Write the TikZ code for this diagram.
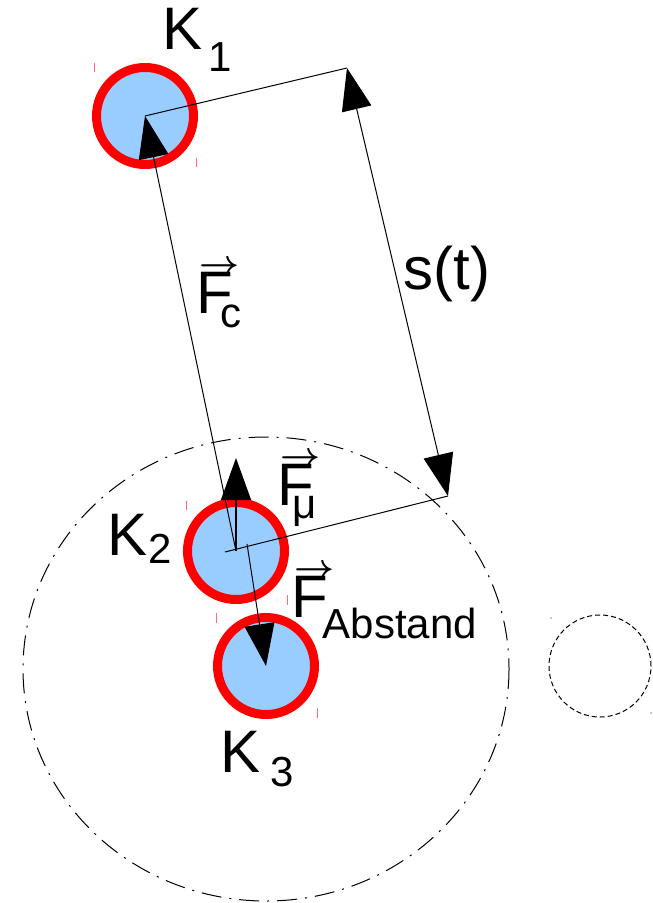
\documentclass[tikz,border=0pt]{standalone}
\usepackage{fontspec}
\setmainfont{Liberation Sans}
\usetikzlibrary{arrows.meta}
\definecolor{ballblue}{RGB}{153,204,255}
\definecolor{tickred}{RGB}{255,110,110}
\newcommand{\subsz}{\fontsize{21pt}{21pt}\selectfont}
\newcommand{\vF}{\leavevmode\rlap{\hspace{1.5pt}\raisebox{19.5pt}{\resizebox{20pt}{!}{\boldmath$\rightarrow$}}}F}
\begin{document}
\begin{tikzpicture}[x=0.5pt,y=-0.5pt,
  lbl/.style={inner sep=0pt, anchor=base west, font=\fontsize{30pt}{30pt}\selectfont},
  ball/.style={circle, draw=red, fill=ballblue, line width=4.5pt, minimum size=48.5pt, inner sep=0pt},
  tickmark/.style={draw=tickred, line width=0.5pt},
  thinline/.style={line width=0.5pt, black},
  force/.style={line width=0.5pt, black, -{Triangle[length=21pt,width=15pt]}},
  dimline/.style={line width=0.5pt, black, {Triangle[length=21pt,width=15pt]}-{Triangle[length=21pt,width=15pt]}},
  dashdot/.style={line width=0.5pt, dash pattern=on 10pt off 4pt on 1pt off 4pt},
  smalldash/.style={line width=0.5pt, dash pattern=on 2.5pt off 1.5pt}]
\useasboundingbox (0,0) rectangle (652,903);

% environment circles
\draw[dashdot] (266,669) ellipse [x radius=243, y radius=232];
\node[circle, draw, smalldash, minimum size=51pt, inner sep=0pt] (ghost) at (600,666) {};
\fill (551,618) circle (0.6);
\fill (651,713) circle (0.6);

% balls
\node[ball] (K1) at (145,116) {};
\node[ball] (K2) at (236,551) {};
\node[ball] (K3) at (266,666) {};

% corner ticks
\draw[tickmark] (94,63) -- (94,72);
\draw[tickmark] (196,158) -- (196,167);
\draw[tickmark] (186,501) -- (186,510);
\draw[tickmark] (287,595) -- (287,605);
\draw[tickmark] (216,613) -- (216,623);
\draw[tickmark] (317,708) -- (317,718);

% helper coordinates
\coordinate (A) at (347,68);
\coordinate (B) at (448,496);
\coordinate (E) at (225,552);
\coordinate (Mu) at (236,458);
\coordinate (Ab) at (247,544);

% extension lines and dimension
\draw[thinline] (K1.center) -- (A);
\draw[thinline] (B) -- (E);
\draw[dimline] (A) -- (B);

% forces
\draw[force] (K2.center) -- (K1.center);
\draw[force, line width=0.7pt] (K2.center) -- (Mu);
\draw[force] (Ab) -- (K3.center);

% labels
\node[lbl] (k1lab) at (162,50) {K\hspace{3pt}\raisebox{-11pt}{\subsz 1}};
\node[lbl] (k2lab) at (107,555) {K\hspace{0.5pt}\raisebox{-4pt}{\subsz 2}};
\node[lbl] (k3lab) at (220,772) {K\hspace{5pt}\raisebox{-7pt}{\subsz 3}};
\node[lbl] (slab) at (403,290) {s(t)};
\node[lbl] (fclab) at (196,314) {\vF\hspace{-6.5pt}\raisebox{-7pt}{\subsz c}};
\node[lbl] (fmulab) at (277,505) {\vF\hspace{-11pt}\raisebox{-6.5pt}{\subsz μ}};
\node[lbl] (fablab) at (291,617) {\vF\hspace{-2.6pt}\raisebox{-10.5pt}{\fontsize{21pt}{21pt}\selectfont Abstand}};
\end{tikzpicture}
\end{document}
